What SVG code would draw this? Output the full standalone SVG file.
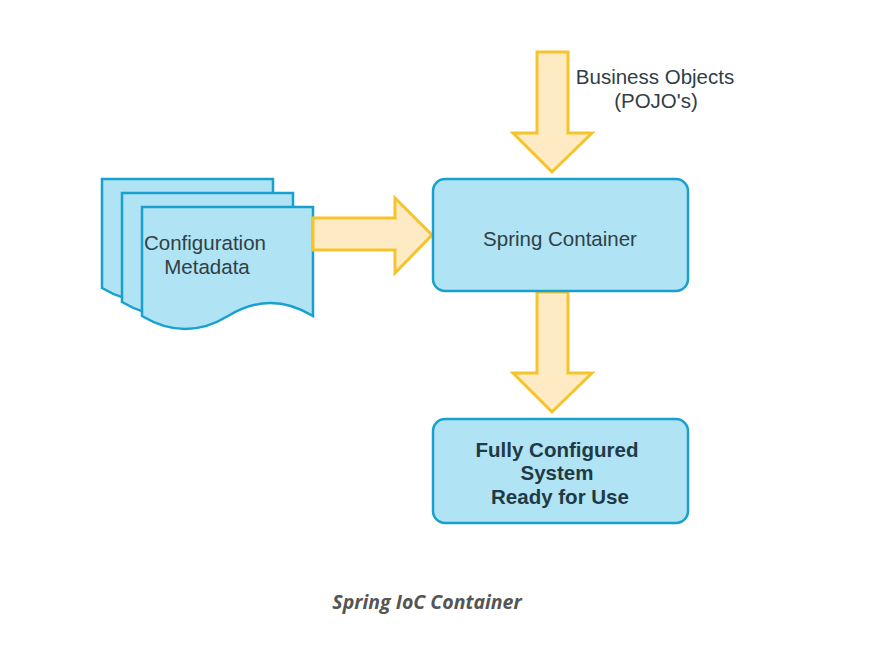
<svg xmlns="http://www.w3.org/2000/svg" width="883" height="649" viewBox="0 0 883 649">
<style>
.node{fill:#b0e3f3;stroke:#18a0cf;stroke-width:2.5}
.arrow{fill:#feeac3;stroke:#f5c42c;stroke-width:3;stroke-linejoin:miter}
.lbl{font-family:"Liberation Sans",Arial,sans-serif;font-size:20.5px;fill:#2f4046;text-anchor:middle}
.bold{font-weight:bold;fill:#1f3a44}
.cap{font-family:"Open Sans","Noto Sans",sans-serif;font-size:19.5px;font-weight:bold;font-style:italic;fill:#555;text-anchor:middle}
</style>
<rect width="883" height="649" fill="#ffffff"/>
<g id="config-metadata">
<path class="node" d="M102,179 H273 V288 Q230.5,262 188,288 Q145.5,314 102,288 Z"/>
<path class="node" d="M122,193 H293 V302 Q250.5,276 208,302 Q165.5,328 122,302 Z"/>
<path class="node" d="M142,207 H313 V316 Q270.5,290 228,316 Q185.5,342 142,316 Z"/>
<text class="lbl" x="205" y="250">Configuration</text>
<text class="lbl" x="207" y="274">Metadata</text>
</g>
<g id="connectors">
<path class="arrow" d="M313,218 H395 V198 L432,235 L395,273 V250 H313 Z"/>
<path class="arrow" d="M537,52 H568 V133 H592 L552,172 L513,133 H537 Z"/>
<path class="arrow" d="M537,292 H568 V373 H592 L552,412 L513,373 H537 Z"/>
</g>
<g id="business-objects">
<text class="lbl" x="655" y="84">Business Objects</text>
<text class="lbl" x="656" y="108">(POJO's)</text>
</g>
<g id="spring-container">
<rect class="node" x="433" y="179" width="255" height="112" rx="12"/>
<text class="lbl" x="560" y="246">Spring Container</text>
</g>
<g id="configured-system">
<rect class="node" x="433" y="419" width="255" height="104" rx="12"/>
<text class="lbl bold" x="557" y="457">Fully Configured</text>
<text class="lbl bold" x="557" y="480">System</text>
<text class="lbl bold" x="560" y="504">Ready for Use</text>
</g>
<text class="cap" x="427" y="609">Spring IoC Container</text>
</svg>
